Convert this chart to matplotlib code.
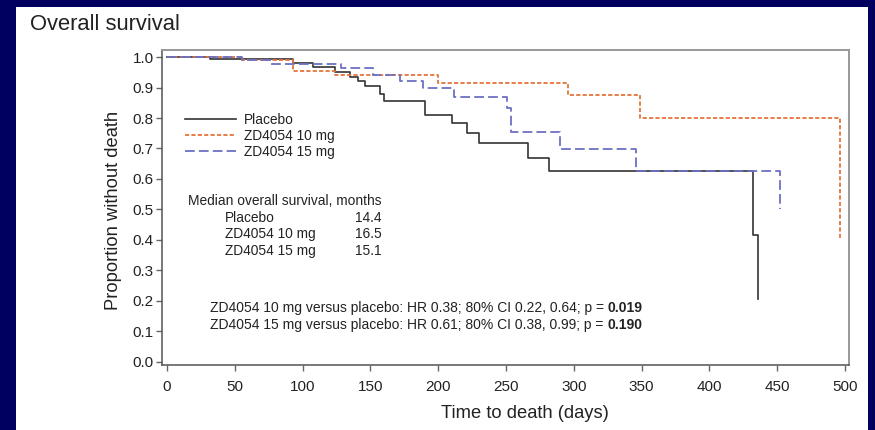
import matplotlib
matplotlib.use("Agg")
import matplotlib.pyplot as plt
from matplotlib.patches import Rectangle

# Kaplan-Meier step data (days, proportion alive)
placebo_t = [0, 32, 93, 108, 124, 135, 141, 146, 157, 160, 190, 210, 221, 230, 266, 282, 432, 436]
placebo_s = [1.0, 0.992, 0.979, 0.966, 0.950, 0.935, 0.920, 0.905, 0.880, 0.855, 0.810,
             0.783, 0.752, 0.717, 0.670, 0.625, 0.417, 0.208]

zd10_t = [0, 55, 93, 124, 200, 296, 349, 496]
zd10_s = [1.0, 0.990, 0.955, 0.942, 0.914, 0.874, 0.800, 0.400]

zd15_t = [0, 55, 77, 128, 152, 172, 189, 212, 251, 254, 290, 346, 452]
zd15_s = [1.0, 0.990, 0.978, 0.963, 0.941, 0.921, 0.900, 0.868, 0.832, 0.755, 0.697, 0.625, 0.500]

median_groups = ["Placebo", "ZD4054 10 mg", "ZD4054 15 mg"]
median_months = ["14.4", "16.5", "15.1"]

hr_lines = [
    ("ZD4054 10 mg versus placebo: HR 0.38; 80% CI 0.22, 0.64; p = ", "0.019"),
    ("ZD4054 15 mg versus placebo: HR 0.61; 80% CI 0.38, 0.99; p = ", "0.190"),
]

W, H = 875, 430
plt.rcParams["font.family"] = ["Liberation Sans", "DejaVu Sans"]
plt.rcParams["lines.scale_dashes"] = False

fig = plt.figure(figsize=(W / 100, H / 100), dpi=100)
fig.patch.set_facecolor("#000060")
# white slide panel
fig.patches.append(Rectangle((16 / W, 0), (868 - 16) / W, 1 - 7 / H,
                             transform=fig.transFigure, facecolor="white",
                             edgecolor="none", zorder=-5))


def fx(px):
    return px / W


def fy(py):
    return 1 - py / H


ax = fig.add_axes([fx(162), fy(365), (849 - 162) / W, (365 - 50) / H])
ax.set_zorder(2)
ax.set_facecolor("white")

ax.step(placebo_t, placebo_s, where="post", color="#333333", lw=1.2, label="Placebo")
ax.step(zd10_t, zd10_s, where="post", color="#E2743A", lw=1.3,
        dashes=(3.0, 1.6), label="ZD4054 10 mg")
ax.step(zd15_t, zd15_s, where="post", color="#6C70C2", lw=1.3,
        dashes=(7.0, 3.0), label="ZD4054 15 mg")

ax.set_xlim(-3.7, 503)
ax.set_ylim(-0.01, 1.023)
ax.set_xticks(range(0, 501, 50))
ax.set_yticks([i / 10 for i in range(11)])
ax.set_yticklabels([f"{i / 10:.1f}" for i in range(11)])
ax.tick_params(direction="out", length=4, width=1, color="#666666",
               labelsize=11, labelcolor="#222222")
ax.tick_params(axis="x", pad=7)
ax.tick_params(axis="y", pad=2)

for side in ["left", "bottom"]:
    ax.spines[side].set_color("#555555")
    ax.spines[side].set_linewidth(1.1)
for side in ["top", "right"]:
    ax.spines[side].set_color("#999999")
    ax.spines[side].set_linewidth(1.4)

ax.set_xlabel("Time to death (days)", fontsize=13.2, color="#222222", va="center")
ax.xaxis.set_label_coords(0.528, -0.155)
ax.set_ylabel("Proportion without death", fontsize=13.2, color="#222222", va="center")
ax.yaxis.set_label_coords(-0.0713, 0.49)

leg = ax.legend(loc="upper left", bbox_to_anchor=(0.033, 0.80), frameon=False,
                fontsize=9.9, handlelength=3.7, handletextpad=0.6,
                labelspacing=0.15, borderpad=0, borderaxespad=0)
for t in leg.get_texts():
    t.set_color("#222222")

fig.text(fx(30), fy(25), "Overall survival", fontsize=15.8, va="center", color="#222222")

fs = 9.95
txt_kw = dict(fontsize=fs, va="center", color="#222222", zorder=5)
fig.text(fx(188), fy(201), "Median overall survival, months", **txt_kw)
for i, (g, m) in enumerate(zip(median_groups, median_months)):
    y = 218 + i * 16.3
    fig.text(fx(225), fy(y), g, **txt_kw)
    fig.text(fx(382), fy(y), m, ha="right", **txt_kw)

for i, (txt, p) in enumerate(hr_lines):
    y = 308 + i * 17
    t = fig.text(fx(210), fy(y), txt, fontsize=10, va="center", color="#222222", zorder=5)
    fig.canvas.draw()
    bb = t.get_window_extent()
    fig.text(bb.x1 / W, fy(y), p, fontsize=10, va="center", color="#222222",
             fontweight="bold", zorder=5)

fig.savefig("out.png", dpi=100, facecolor=fig.get_facecolor())
